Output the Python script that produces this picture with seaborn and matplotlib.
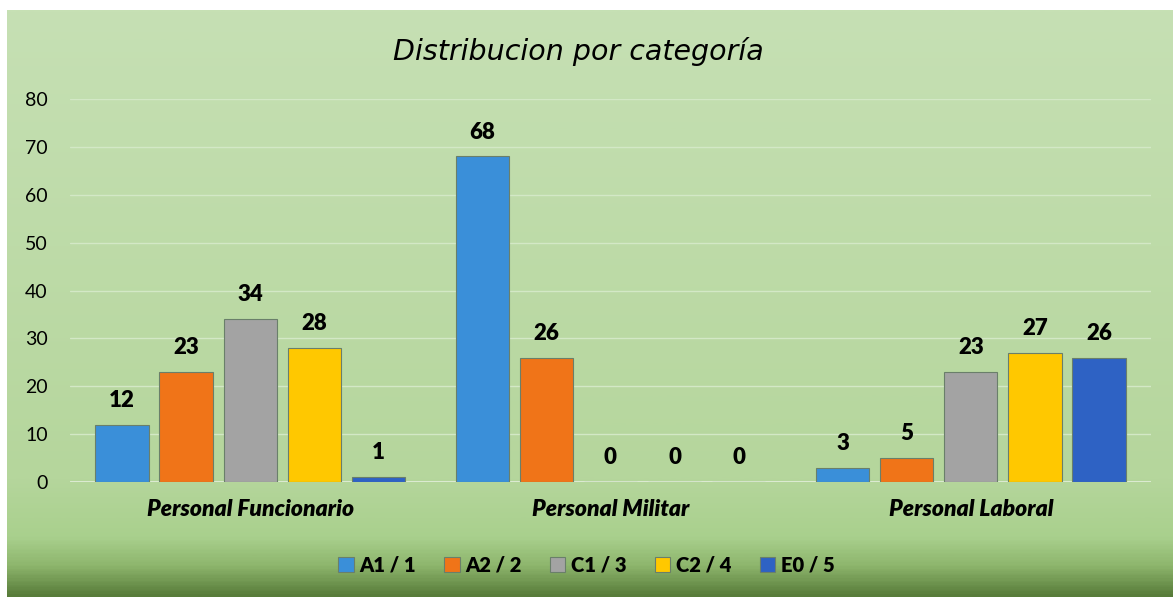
import numpy as np
import pandas as pd
import matplotlib
matplotlib.use("Agg")
import matplotlib.pyplot as plt
from matplotlib.colors import LinearSegmentedColormap
import seaborn as sns

grupos = ["Personal Funcionario", "Personal Militar", "Personal Laboral"]
categorias = ["A1 / 1", "A2 / 2", "C1 / 3", "C2 / 4", "E0 / 5"]
a1 = [12, 68, 3]
a2 = [23, 26, 5]
c1 = [34, 0, 23]
c2 = [28, 0, 27]
e0 = [1, 0, 26]

colores = ["#3a8fd9", "#f07418", "#a3a3a3", "#ffc800", "#2e62c4"]

df = pd.DataFrame({
    "grupo": grupos * 5,
    "cat": [c for c in categorias for _ in grupos],
    "valor": a1 + a2 + c1 + c2 + e0,
})

sns.set_style("white")
plt.rcParams["font.family"] = ["Lato", "DejaVu Sans"]
plt.rcParams["text.color"] = "black"
plt.rcParams["xtick.color"] = "black"
plt.rcParams["ytick.color"] = "black"

fig = plt.figure(figsize=(11.73, 5.97), dpi=100)
fig.patch.set_facecolor("white")

# fondo verde con degradado
bg = fig.add_axes([7 / 1173, 0, 1 - 7 / 1173, 1 - 10 / 597])
bg.set_axis_off()
cmap = LinearSegmentedColormap.from_list(
    "fondo",
    [(0.0, "#c6e0b4"), (0.80, "#b5d69c"), (0.90, "#a9d08d"),
     (0.95, "#8db56c"), (1.0, "#587c3a")])
grad = np.linspace(0, 1, 400).reshape(-1, 1)
bg.imshow(grad, aspect="auto", cmap=cmap, extent=[0, 1, 0, 1])

ax = fig.add_axes([70 / 1173, 115 / 597, 1081 / 1173, 383 / 597])
ax.set_facecolor("none")
sns.barplot(data=df, x="grupo", y="valor", hue="cat", palette=colores,
            width=0.89, gap=0.17, edgecolor="#6a7f6a", linewidth=0.8,
            saturation=1, ax=ax)

ax.set_ylim(0, 80)
ax.set_yticks(range(0, 81, 10))
ax.grid(axis="y", color="#d3e8c6", linewidth=1)
ax.set_axisbelow(True)
for s in ax.spines.values():
    s.set_visible(False)
ax.axhline(0, color="#e4eedc", linewidth=2, zorder=0.5)
ax.set_xlabel("")
ax.set_ylabel("")
ax.tick_params(axis="y", labelsize=14, length=0, pad=16)
ax.tick_params(axis="x", length=0, pad=12)
for t in ax.get_xticklabels():
    t.set_fontsize(16.5)
    t.set_fontweight("heavy")
    t.set_fontstyle("italic")

for cont in ax.containers:
    ax.bar_label(cont, fontsize=16, fontweight="heavy", padding=10)

h, l = ax.get_legend_handles_labels()
ax.get_legend().remove()
fig.legend(h, l, loc="center", bbox_to_anchor=(0.5, 32 / 597), ncol=5,
           frameon=False, handlelength=0.75, handleheight=0.75,
           handletextpad=0.3, columnspacing=1.4,
           prop={"weight": "heavy", "size": 14.5})

fig.text(578 / 1173, 1 - 52 / 597, "Distribucion por categoría",
         ha="center", va="center", fontsize=20.5, fontstyle="italic",
         family="DejaVu Sans")

fig.savefig("out.png", dpi=100)
